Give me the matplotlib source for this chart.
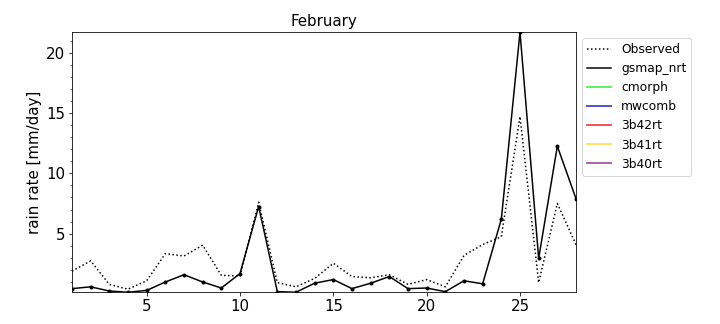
import matplotlib
matplotlib.use("Agg")
import matplotlib.pyplot as plt
from matplotlib.ticker import MultipleLocator

days = list(range(1, 29))
observed = [1.9, 2.75, 0.8, 0.4, 1.1, 3.35, 3.15, 4.05, 1.55, 1.5, 7.6, 0.95, 0.6, 1.3,
            2.55, 1.45, 1.35, 1.6, 0.8, 1.2, 0.6, 3.2, 4.1, 4.75, 14.7, 0.95, 7.5, 4.1]
gsmap_nrt = [0.45, 0.6, 0.25, 0.15, 0.3, 1.0, 1.6, 1.0, 0.5, 1.7, 7.25, 0.2, 0.15, 0.9,
             1.2, 0.45, 0.9, 1.45, 0.45, 0.5, 0.2, 1.1, 0.85, 6.2, 21.7, 2.95, 12.25, 7.9]
# products with no data this month (legend only)
empty_products = ["cmorph", "mwcomb", "3b42rt", "3b41rt", "3b40rt"]
empty_colors = ["#33ee33", "#2222bb", "#ee2222", "#ffdd33", "#993399"]

fig = plt.figure(figsize=(10, 4.5), dpi=72)
ax = fig.add_axes([0.1, 0.098, 0.7, 0.803])

ax.plot(days, observed, ':', color='black', lw=1.5, label='Observed')
ax.plot(days, gsmap_nrt, '-', color='black', lw=1.5, label='gsmap_nrt')
ax.plot(days, gsmap_nrt, 'o', color='black', markersize=3)
for name, c in zip(empty_products, empty_colors):
    ax.plot([], [], '-', color=c, lw=1.8, alpha=0.85, label=name)

ax.set_xlim(1, 28)
ax.set_ylim(min(gsmap_nrt), max(gsmap_nrt))
ax.set_xticks([5, 10, 15, 20, 25])
ax.set_yticks([5, 10, 15, 20])
ax.yaxis.set_minor_locator(MultipleLocator(1))
ax.tick_params(labelsize=15)
ax.set_ylabel('rain rate [mm/day]', fontsize=15)
ax.set_title('February', fontsize=15)
ax.legend(loc='upper left', bbox_to_anchor=(1.0, 1.0), fontsize=12.2)

fig.savefig('out.png', dpi=72)
